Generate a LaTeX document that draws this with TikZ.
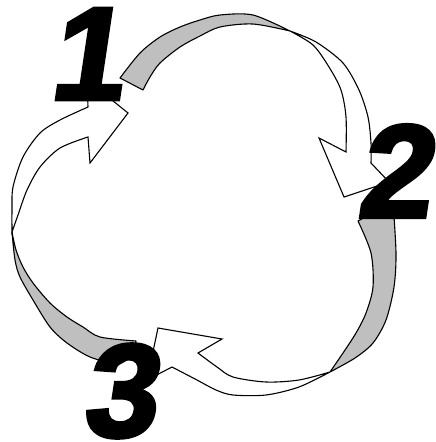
\documentclass[tikz,border=0pt]{standalone}
\usepackage{fontspec}
\newfontfamily\numfont[FakeBold=3]{Liberation Sans}
\usepackage{tikz}

\begin{document}
\begin{tikzpicture}[x=1pt, y=-1pt,
  back/.style={draw=black, fill=gray!50, line width=1.1pt, line join=round},
  front/.style={draw=black, fill=white, line width=1.1pt},
  num/.style={font=\numfont\bfseries\fontsize{132}{132}\selectfont, inner sep=1pt,
    xslant=0.15, transform shape}]
  \useasboundingbox (0,0) rectangle (436,442);
  % 1 -> 2
  \filldraw[back] plot[smooth] coordinates {(120,78) (140,53) (160,37) (180,27) (200,20) (220,15) (253,15) (290,31)}
    -- plot[smooth] coordinates {(290,31) (253,24) (220,27) (200,36) (180,47) (160,63) (150,77) (143,90)} -- cycle;
  \filldraw[front] plot[smooth] coordinates {(290,31) (316,42) (343,63) (359,90) (368,117) (371,143) (371,163)}
    -- (389,182) -- (344,197) -- (319,138) -- (346,152)
    -- plot[smooth] coordinates {(346,152) (346,117) (341,90) (329,67) (313,45) (290,31)} -- cycle;
  % 2 -> 3
  \filldraw[back] plot[smooth] coordinates {(393,202) (396,253) (394,287) (386,320) (373,343) (355,358) (330,372)}
    -- plot[smooth] coordinates {(330,372) (343,353) (356,333) (366,313) (373,287) (371,253) (358,221)} -- cycle;
  \filldraw[front] plot[smooth] coordinates {(330,372) (299,387) (266,395) (233,395) (216,390) (197,380) (172,367)}
    -- (147,380) -- (158,328) -- (222,339) -- (198,353)
    -- plot[smooth] coordinates {(198,353) (217,367) (233,377) (266,382) (299,380) (330,372)} -- cycle;
  % 3 -> 1
  \filldraw[back] plot[smooth] coordinates {(118,365) (90,357) (67,343) (50,327) (33,300) (20,277) (15,260) (12,232)}
    -- plot[smooth] coordinates {(12,232) (16,250) (23,267) (33,283) (50,303) (67,317) (83,327) (100,337) (136,341)}
    -- (134,356) -- cycle;
  \filldraw[front] plot[smooth] coordinates {(12,232) (12,210) (13,187) (23,157) (40,133) (60,120) (88,107)}
    -- (87,80) -- (128,113) -- (90,163) -- (88,137)
    -- plot[smooth] coordinates {(88,137) (60,148) (40,167) (27,190) (18,215) (12,232)} -- cycle;
  % numbers
  \coordinate (p1) at (92,54);
  \coordinate (p2) at (400,171);
  \coordinate (p3) at (125,391);
  \node[num] (one) at (p1) {1};
  \node[num] (two) at (p2) {2};
  \node[num] (three) at (p3) {3};
\end{tikzpicture}
\end{document}
